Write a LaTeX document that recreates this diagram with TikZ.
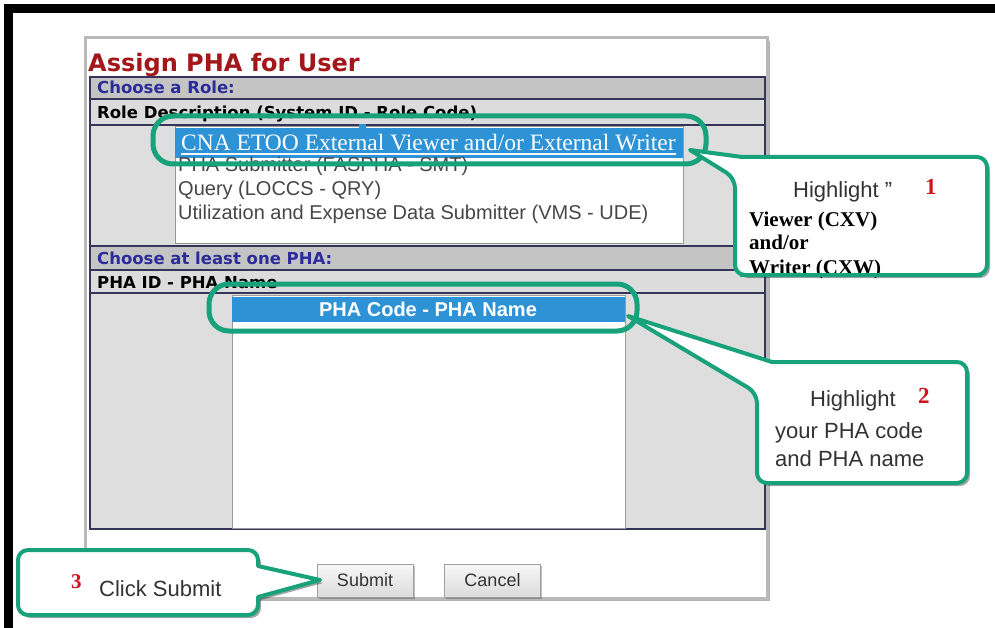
\documentclass[tikz,border=0pt]{standalone}
\usepackage{fontspec}
\usepackage{graphicx}
\setmainfont{Liberation Sans}
\newfontfamily\verd{DejaVu Sans}
\newfontfamily\tms{Liberation Serif}
\usetikzlibrary{shadows}
\newcommand\myfs[1]{\fontsize{#1pt}{#1pt}\selectfont}
\definecolor{ttl}{HTML}{A3161A}
\definecolor{navy}{HTML}{2B2B9A}
\definecolor{hdr}{HTML}{C4C4C4}
\definecolor{sub}{HTML}{DCDCDC}
\definecolor{lbg}{HTML}{DEDEDE}
\definecolor{sel}{HTML}{2E93D6}
\definecolor{grn}{HTML}{17A27C}
\definecolor{txtg}{HTML}{474747}
\definecolor{ctxt}{HTML}{333333}
\definecolor{bord}{HTML}{35355A}
\definecolor{numred}{HTML}{D0141C}
\tikzset{
  lbl/.style={anchor=base west, inner sep=0pt, font=\verd\bfseries\myfs{16.5}},
  item/.style={anchor=base west, inner sep=0pt, font=\myfs{20}, text=txtg},
  oval/.style={draw=grn, line width=5pt, rounded corners=20pt},
  callout/.style={draw=grn, line width=4pt, fill=white, line join=round,
    drop shadow={shadow xshift=3pt, shadow yshift=-3pt, opacity=0.35, fill=black}},
  ctext/.style={anchor=base west, inner sep=0pt, font=\myfs{22}, text=ctxt},
  num/.style={anchor=base west, inner sep=0pt, font=\tms\bfseries\myfs{23}, text=numred},
  bserif/.style={anchor=base west, inner sep=0pt, font=\tms\bfseries\myfs{21}, text=black},
  btn/.style={draw=gray!75, line width=1pt, top color=gray!6, bottom color=gray!28,
    minimum width=96pt, minimum height=33pt, inner sep=0pt, font=\myfs{18}, text=ctxt,
    drop shadow={shadow xshift=1.5pt, shadow yshift=-1.5pt, opacity=0.25, fill=black}}
}
\begin{document}
\begin{tikzpicture}[x=1pt,y=-1pt]
\useasboundingbox (0,0) rectangle (995,628);
\fill[white] (0,0) rectangle (995,628);
% black frame
\fill[black] (4,4) rectangle (995,13);
\fill[black] (4,4) rectangle (13,628);

% window
\draw[gray!55, line width=3pt, fill=white,
  drop shadow={shadow xshift=3pt, shadow yshift=-3pt, opacity=0.3, fill=black}]
  (85,38) rectangle (767,598);

% title
\node[anchor=base west, inner sep=0pt, font=\verd\bfseries\myfs{24}, text=ttl] (title) at (88,72) {Assign PHA for User};

% table rows
\fill[hdr] (90,77) rectangle (765,99);
\fill[sub] (90,99) rectangle (765,125);
\fill[lbg] (90,125) rectangle (765,246);
\fill[hdr] (90,246) rectangle (765,270);
\fill[sub] (90,270) rectangle (765,293);
\fill[lbg] (90,293) rectangle (765,529);
\draw[bord, line width=1.6pt] (90,77) rectangle (765,529);
\foreach \yy in {99,125,246,270,293} \draw[bord, line width=1.4pt] (90,\yy) -- (765,\yy);

\node[lbl, text=navy] (role) at (97,94) {Choose a Role:};
\node[lbl, text=black] (roledesc) at (97,119) {Role Description (System ID - Role Code)};
\node[lbl, text=navy] (least) at (97,264) {Choose at least one PHA:};
\node[lbl, text=black] (phaid) at (97,288) {PHA ID - PHA Name};

% listbox 1
\draw[gray!80, line width=1pt, fill=white] (175,127) rectangle (683,244);
\fill[sel] (175,128) rectangle (683,158);
\node[anchor=base west, inner sep=0pt, font=\tms\myfs{23.5}, text=white] (it1) at (181,151) {CNA ETOO External Viewer and/or External Writer};
\draw[white, line width=1.2pt] ([yshift=-3pt]it1.base west) -- ([yshift=-3pt]it1.base east);
\node[item] (it2) at (178,172) {PHA Submitter (FASPHA - SMT)};
\node[item] (it3) at (178,196) {Query (LOCCS - QRY)};
\node[item] (it4) at (178,220) {Utilization and Expense Data Submitter (VMS - UDE)};
\fill[sel] (359,124) rectangle (366,131);

% listbox 2
\draw[gray!80, line width=1pt, fill=white] (232,295) rectangle (625,528);
\fill[sel] (232,297) rectangle (625,322);
\node[inner sep=0pt, font=\bfseries\myfs{20}, text=white] (pha) at (428,309.5) {PHA Code - PHA Name};

% buttons
\node[btn] (sub) at (365,580.5) {Submit};
\node[btn] (can) at (492.5,580.5) {Cancel};

% highlight ovals
\draw[oval] (153,116) rectangle (706,164);
\draw[oval] (209,284) rectangle (637,331);

% callout 1
\coordinate (t1) at (690,150);
\draw[callout] (t1) -- (742,157) [rounded corners=10pt] -- (987,157) -- (987,275) -- (735,275) -- (735,178) [sharp corners] -- cycle;
\node[ctext] (h1) at (793,198) {Highlight \symbol{"22}};
\node[num] (n1) at (925,195) {1};
\node[bserif] (v1) at (749,227) {Viewer (CXV)};
\node[bserif] (v2) at (749,250) {and/or};
\node[bserif] (v3) at (749,274) {Writer (CXW)};
\draw[grn, line width=4pt] (740,275) -- (982,275);

% callout 2
\coordinate (t2) at (628,316);
\draw[callout] (t2) -- (772,362) [rounded corners=10pt] -- (967,362) -- (967,483) -- (757,483) -- (757,393) [sharp corners] -- cycle;
\node[ctext] (h2) at (810,406) {Highlight};
\node[num] (n2) at (918,403) {2};
\node[ctext] (y2) at (775,438) {your PHA code};
\node[ctext] (a2) at (775,466) {and PHA name};

% callout 3
\coordinate (t3) at (320,580);
\draw[callout] (t3) -- (258,597) [rounded corners=10pt] -- (258,615) -- (18,615) -- (18,550) -- (258,550) [sharp corners] -- (258,566) -- cycle;
\node[num, font=\tms\bfseries\myfs{21}] (n3) at (71,588) {3};
\node[ctext] (c3) at (99,596) {Click Submit};
\end{tikzpicture}
\end{document}
